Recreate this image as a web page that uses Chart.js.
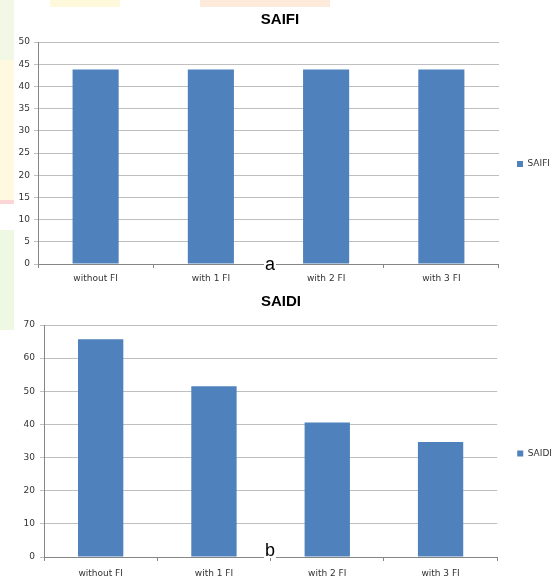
<!DOCTYPE html>
<html>
<head>
<meta charset="utf-8">
<script src="https://cdn.jsdelivr.net/npm/chart.js@4.4.1/dist/chart.umd.min.js"></script>
<style>
  body { margin: 0; width: 552px; height: 579px; overflow: hidden; background: #fff; position: relative; }
  canvas { position: absolute; left: 0; }
  #saifiChart { top: 0; }
  #saidiChart { top: 280px; }
  .wm { position: absolute; }
  .tag { position: absolute; font: 18px "Liberation Sans", sans-serif; color: #000; background: #fff; line-height: 16px; padding: 0 1px; }
</style>
</head>
<body>
<!-- faint watermark that shows round the white chart panel -->
<div class="wm" style="left:0;top:0;width:14px;height:60px;background:#f1f8e6"></div>
<div class="wm" style="left:0;top:60px;width:14px;height:140px;background:#fffadf"></div>
<div class="wm" style="left:0;top:200px;width:14px;height:4px;background:#fbd6d6"></div>
<div class="wm" style="left:0;top:230px;width:14px;height:100px;background:#eef8e2"></div>
<div class="wm" style="left:50px;top:0;width:70px;height:7px;background:#fff9dc"></div>
<div class="wm" style="left:200px;top:0;width:130px;height:7px;background:#feeadb"></div>

<canvas id="saifiChart" width="564" height="290"></canvas>
<canvas id="saidiChart" width="570" height="299"></canvas>
<div class="tag" style="left:264px;top:256px">a</div>
<div class="tag" style="left:264px;top:542px">b</div>

<script>
// values
const categories = ['without FI', 'with 1 FI', 'with 2 FI', 'with 3 FI'];
const saifiValues = [43.8, 43.8, 43.8, 43.8];
const saidiValues = [65.7, 51.5, 40.6, 34.7];
const saifiAxis = { max: 50, step: 5 };
const saidiAxis = { max: 70, step: 10 };

const barColor = '#4f81bd';
const gridColor = '#bfbfbf';
const axisColor = '#868686';
const tickFont = { family: 'DejaVu Sans', size: 9 };

function makeChart(id, label, values, axis, box) {
  let ctx = document.getElementById(id).getContext('2d');
  return new Chart(ctx, {
    type: 'bar',
    data: {
      labels: categories,
      datasets: [{
        label: label,
        data: values,
        backgroundColor: barColor,
        borderWidth: 0,
        barPercentage: 0.4,
        categoryPercentage: 1
      }]
    },
    options: {
      responsive: false,
      animation: false,
      layout: { padding: { left: 0, right: box.padRight, top: 0, bottom: 0 } },
      plugins: {
        tooltip: { enabled: false },
        title: {
          display: true,
          text: label,
          color: '#000',
          font: { family: 'Liberation Sans', size: 15, weight: 'bold', lineHeight: 1.2 },
          padding: { top: box.titleTop, bottom: box.titleBottom }
        },
        legend: {
          position: 'right',
          // empty title only pushes the single entry down to where Excel put it
          title: { display: true, text: ' ', font: tickFont, padding: box.legendShift },
          labels: {
            boxWidth: 6,
            boxHeight: 6,
            padding: box.legendPad,
            color: '#333',
            font: tickFont
          }
        }
      },
      scales: {
        x: {
          offset: true,
          grid: { drawOnChartArea: false, drawTicks: true, tickLength: 4, color: axisColor },
          border: { color: axisColor },
          ticks: { color: '#333', font: tickFont, padding: box.xPad, maxRotation: 0 },
          afterFit: s => { s.height = box.xHeight; }
        },
        y: {
          min: 0,
          max: axis.max,
          grid: { color: gridColor, tickLength: 4 },
          border: { color: axisColor },
          ticks: { stepSize: axis.step, color: '#333', font: tickFont, padding: box.yPad },
          afterFit: s => { s.width = box.yWidth; }
        }
      }
    }
  });
}

makeChart('saifiChart', 'SAIFI', saifiValues, saifiAxis,
  { padRight: 4, titleTop: 11, titleBottom: 13, legendPad: 18, legendShift: 13.6, xHeight: 26, xPad: 5, yWidth: 38, yPad: 4 });
makeChart('saidiChart', 'SAIDI', saidiValues, saidiAxis,
  { padRight: 8, titleTop: 13, titleBottom: 14, legendPad: 20, legendShift: 18.6, xHeight: 22, xPad: 7, yWidth: 44, yPad: 5 });
</script>
</body>
</html>
